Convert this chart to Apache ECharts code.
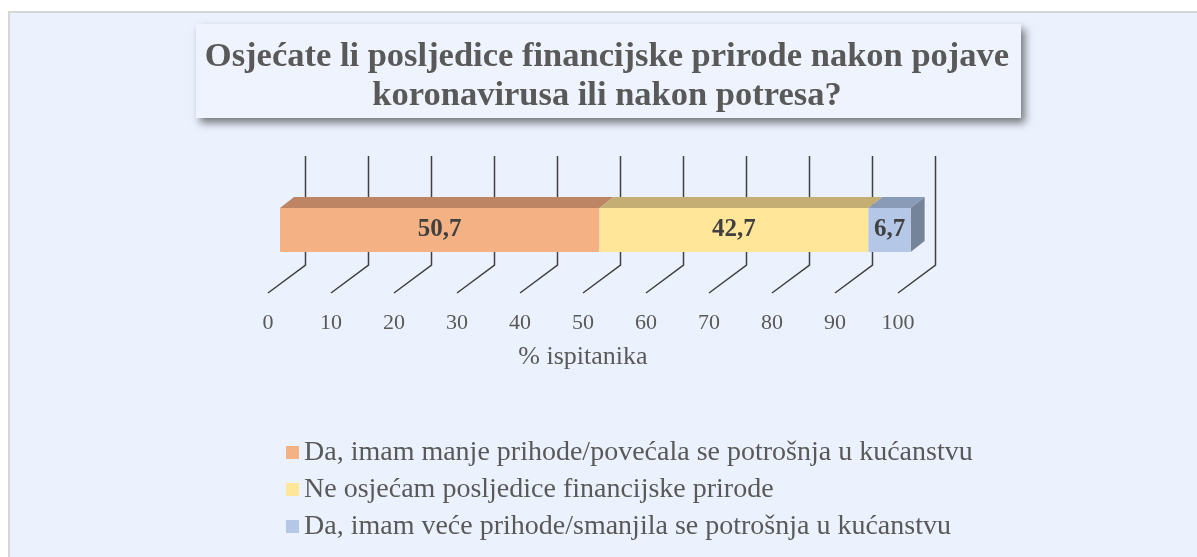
<!DOCTYPE html>
<html>
<head>
<meta charset="utf-8">
<script src="https://cdn.jsdelivr.net/npm/echarts@6/dist/echarts.min.js"></script>
<style>
  html, body { margin: 0; padding: 0; background: #ffffff; }
  #main { width: 1197px; height: 557px; }
</style>
</head>
<body>
<div id="main"></div>
<script>
// answers (% of respondents)
const categories = [
  'Da, imam manje prihode/povećala se potrošnja u kućanstvu',
  'Ne osjećam posljedice financijske prirode',
  'Da, imam veće prihode/smanjila se potrošnja u kućanstvu'
];
const values = [50.7, 42.7, 6.7];
const tickValues = [0, 10, 20, 30, 40, 50, 60, 70, 80, 90, 100];

const frontColors = ['#f4b183', '#ffe699', '#b4c7e7'];
const topColors = ['#bd8563', '#c4ae74', '#8a9bb7'];
const sideColor = '#768499';

const serif = "'Liberation Serif', 'Times New Roman', serif";
const DX = 14, DY = -11, HALF = 22; // depth of the 3d bar

// start/end of each stacked segment
let acc = 0;
const segments = values.map((v, i) => {
  const s = [acc, acc + v, i];
  acc += v;
  return s;
});

const chart = echarts.init(document.getElementById('main'));

const barSeries = categories.map((name, i) => ({
  name: name,
  type: 'bar',
  stack: 'total',
  barWidth: 44,
  clip: false,
  z: 3,
  itemStyle: { color: frontColors[i] },
  label: {
    show: true,
    position: 'inside',
    formatter: (p) => String(p.value).replace('.', ','),
    fontFamily: serif,
    fontWeight: 'bold',
    fontSize: 25,
    color: '#404040'
  },
  data: [values[i]]
}));

const option = {
  backgroundColor: '#ffffff',
  animation: false,
  graphic: [
    {
      type: 'rect', z: -10, silent: true,
      shape: { x: 9, y: 12, width: 1200, height: 560 },
      style: { fill: '#ebf1fd', stroke: '#d6d6d6', lineWidth: 2 }
    },
    {
      type: 'rect', z: -5, silent: true,
      shape: { x: 196, y: 24, width: 825, height: 94 },
      style: {
        fill: '#eef3fd',
        shadowBlur: 8, shadowOffsetX: 4, shadowOffsetY: 5,
        shadowColor: 'rgba(0,0,0,0.5)'
      }
    }
  ],
  title: {
    text: 'Osjećate li posljedice financijske prirode nakon pojave\nkoronavirusa ili nakon potresa?',
    left: 607,
    top: 38,
    padding: 0,
    textAlign: 'center',
    textStyle: {
      fontFamily: serif,
      fontWeight: 'bold',
      fontSize: 34.5,
      lineHeight: 39,
      color: '#595959'
    }
  },
  legend: {
    data: categories,
    orient: 'vertical',
    left: 281,
    top: 433,
    itemWidth: 13,
    itemHeight: 13,
    itemGap: 8,
    icon: 'rect',
    textStyle: { fontFamily: serif, fontSize: 28, lineHeight: 29, color: '#595959' }
  },
  grid: { left: 280, width: 630, top: 208, height: 44 },
  xAxis: {
    type: 'value',
    min: 0,
    max: 100,
    interval: 10,
    axisLine: { show: false },
    axisTick: { show: false },
    splitLine: { show: false },
    axisLabel: {
      margin: 60,
      padding: [0, 24, 0, 0],
      fontFamily: serif,
      fontSize: 22,
      color: '#595959'
    },
    name: '% ispitanika',
    nameLocation: 'middle',
    nameGap: 92,
    nameTextStyle: {
      padding: [0, 24, 0, 0],
      fontFamily: serif,
      fontSize: 26,
      color: '#595959'
    }
  },
  yAxis: {
    type: 'category',
    data: [''],
    show: false
  },
  series: [
    {
      // perspective gridlines (back wall + floor)
      type: 'custom',
      z: 1,
      clip: false,
      silent: true,
      data: tickValues.map((v) => [v, 0]),
      encode: { x: 0, y: 1 },
      renderItem: (params, api) => {
        const p = api.coord([api.value(0), 0]);
        const x = p[0], cy = p[1];
        return {
          type: 'polyline',
          shape: { points: [[x + 25.5, cy - 74], [x + 25.5, cy + 35], [x - 12, cy + 63]] },
          style: { stroke: '#404040', lineWidth: 1.5, fill: null }
        };
      }
    },
    ...barSeries,
    {
      // top faces and right side of the 3d bar
      type: 'custom',
      z: 3,
      clip: false,
      silent: true,
      data: segments,
      encode: { x: [0, 1], y: -1 },
      renderItem: (params, api) => {
        const a = api.coord([api.value(0), 0]);
        const b = api.coord([api.value(1), 0]);
        const i = api.value(2);
        const top = a[1] - HALF, bottom = a[1] + HALF;
        const children = [{
          type: 'polygon',
          shape: { points: [[a[0], top], [b[0], top], [b[0] + DX, top + DY], [a[0] + DX, top + DY]] },
          style: { fill: topColors[i] }
        }];
        if (i === values.length - 1) {
          children.push({
            type: 'polygon',
            shape: { points: [[b[0], top], [b[0] + DX, top + DY], [b[0] + DX, bottom + DY], [b[0], bottom]] },
            style: { fill: sideColor }
          });
        }
        return { type: 'group', children: children };
      }
    }
  ]
};

chart.setOption(option);
</script>
</body>
</html>
